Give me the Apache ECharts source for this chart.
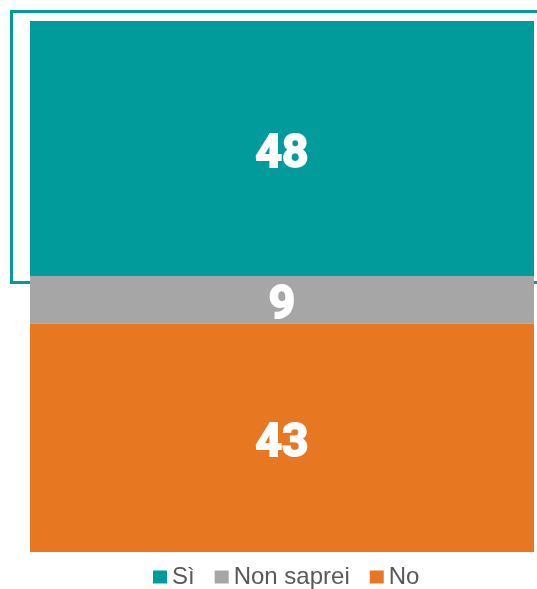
<!DOCTYPE html>
<html><head><meta charset="utf-8">
<script src="https://cdn.jsdelivr.net/npm/echarts@6/dist/echarts.min.js"></script>
<style>html,body{margin:0;padding:0;background:#fff}#c{width:537px;height:589px}</style>
</head><body><div id="c"></div>
<script>
const categories = ['Totale'];
const seriesNames = ['Sì', 'Non saprei', 'No'];
const siValues = [48];
const nonSapreiValues = [9];
const noValues = [43];
const colors = ['#009B9A', '#A6A6A6', '#E87722'];

const chart = echarts.init(document.getElementById('c'));
const labelStyle = {show: true, position: 'inside', offset: [0, 7], color: '#fff', fontFamily: 'Roboto', fontWeight: 'bold', fontSize: 46,
  textBorderColor: '#fff', textBorderWidth: 2};
const order = [siValues, nonSapreiValues, noValues];
const series = seriesNames.map((n, i) => ({
  name: n, type: 'bar', stack: 's', data: order[i], barWidth: '100%',
  itemStyle: {color: colors[i]}, label: labelStyle, emphasis: {disabled: true}, animation: false
}));
chart.setOption({
  animation: false,
  grid: {left: 30, right: 3, top: 21, bottom: 37},
  xAxis: {type: 'category', data: categories, show: false},
  yAxis: {type: 'value', min: 0, max: 100, inverse: true, show: false},
  legend: {
    bottom: 0, left: 153, padding: 0, itemWidth: 14, itemHeight: 13, itemGap: 20,
    icon: 'rect', textStyle: {fontFamily: 'Liberation Sans', fontSize: 24, color: '#595959'},
    data: seriesNames
  },
  series: series
});
// highlight outline around the "Sì" segment, computed from the data scale
const pTop = chart.convertToPixel({gridIndex: 0}, [0, 0]);
const pBot = chart.convertToPixel({gridIndex: 0}, [0, siValues[0]]);
chart.setOption({
  graphic: [{
    type: 'rect', silent: true,
    shape: {x: 11.5, y: pTop[1] - 9.5, width: 540, height: pBot[1] - pTop[1] + 16},
    style: {fill: 'none', stroke: '#009B9A', lineWidth: 3}
  }]
});
</script></body></html>
